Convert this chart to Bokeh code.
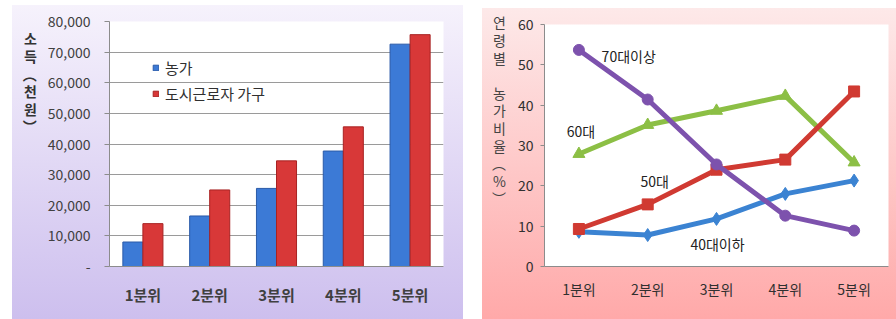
from bokeh.plotting import figure
from bokeh.models import (ColumnDataSource, FactorRange, Range1d, FixedTicker,
                          NumeralTickFormatter, Legend)
from bokeh.core.properties import value
from bokeh.transform import dodge
from bokeh.layouts import row
from bokeh.embed import file_html
from bokeh.resources import INLINE

# ---------------- data ----------------
quintiles = ["1분위", "2분위", "3분위", "4분위", "5분위"]
farm_income = [8000, 16500, 25500, 37700, 72600]
urban_income = [14000, 25000, 34500, 45600, 75700]
income_ticks = [0, 10000, 20000, 30000, 40000, 50000, 60000, 70000, 80000]

age_40_under = [8.6, 7.8, 11.8, 18.0, 21.3]
age_50s = [9.3, 15.4, 24.0, 26.5, 43.4]
age_60s = [27.9, 35.1, 38.6, 42.3, 25.8]
age_70_over = [53.7, 41.4, 25.3, 12.6, 8.9]
share_ticks = [0, 10, 20, 30, 40, 50, 60]

FONT = "Noto Sans CJK KR"
PAD = "\u00a0"

def set_stacked_label(ax, chars, pad_lines, fallback):
    try:
        ax.axis_label_orientation = "horizontal"
        ax.axis_label = "\n".join(chars + [PAD] * pad_lines)
        ax.axis_label_text_line_height = 0.88
    except Exception:
        ax.axis_label = fallback

# ---------------- left chart ----------------
src = ColumnDataSource(dict(q=quintiles, farm=farm_income, urban=urban_income))
p1 = figure(width=451, height=314, x_range=FactorRange(*quintiles),
            y_range=Range1d(0, 80000), output_backend="svg",
            toolbar_location=None, min_border_left=97, min_border_right=20,
            min_border_top=16, min_border_bottom=53,
            border_fill_color=None, background_fill_color="white",
            outline_line_color=None, margin=(5, 0, 0, 12),
            styles={"background": "linear-gradient(#f6f2fc, #cdbfee)"})
b1 = p1.vbar(x=dodge("q", -0.15, range=p1.x_range), top="farm", width=0.3,
             source=src, fill_color="#3c7ad6", line_color="#2a5aa8")
b2 = p1.vbar(x=dodge("q", 0.15, range=p1.x_range), top="urban", width=0.3,
             source=src, fill_color="#d83838", line_color="#a82222")
p1.xgrid.grid_line_color = None
p1.ygrid.grid_line_color = "#9a9a9a"
p1.ygrid.ticker = FixedTicker(ticks=income_ticks)
p1.yaxis.ticker = FixedTicker(ticks=income_ticks)
p1.yaxis.formatter = NumeralTickFormatter(format="0,0")
p1.yaxis.major_label_overrides = {0: "-"}
for ax in (p1.xaxis[0], p1.yaxis[0]):
    ax.axis_line_color = "#8c8c8c"
    ax.major_tick_line_color = "#8c8c8c"
    ax.minor_tick_line_color = None
    ax.major_tick_in = 0
    ax.major_label_text_font = FONT
    ax.major_label_text_color = "#404040"
p1.yaxis.major_tick_out = 5
p1.yaxis.major_label_text_font_size = "14px"
p1.yaxis.major_label_standoff = 14
p1.xaxis.major_tick_out = 0
p1.xaxis.major_label_text_font_size = "15px"
p1.xaxis.major_label_text_font_style = "bold"
p1.xaxis.major_label_standoff = 17

ya1 = p1.yaxis[0]
set_stacked_label(ya1, ["소", "득", "︵", "천", "원", "︶"], 7, "소득(천원)")
ya1.axis_label_text_font = FONT
ya1.axis_label_text_font_size = "14px"
ya1.axis_label_text_font_style = "bold"
ya1.axis_label_text_color = "#333333"
ya1.axis_label_standoff = 8

legend = Legend(items=[("농가", [b1]), ("도시근로자 가구", [b2])],
                location=(43, 162), background_fill_alpha=0,
                border_line_alpha=0, glyph_width=7, glyph_height=7,
                label_text_font=FONT, label_text_font_size="15px",
                label_text_color="#303030", label_height=20, spacing=5,
                padding=0, margin=0, label_standoff=6)
p1.add_layout(legend, "center")

# ---------------- right chart ----------------
src2 = ColumnDataSource(dict(q=quintiles, a40=age_40_under, a50=age_50s,
                             a60=age_60s, a70=age_70_over))
p2 = figure(width=414, height=311, x_range=FactorRange(*quintiles),
            y_range=Range1d(0, 60), output_backend="svg",
            toolbar_location=None, min_border_left=62, min_border_right=8,
            min_border_top=16, min_border_bottom=53,
            border_fill_color=None, background_fill_color="white",
            outline_line_color=None, margin=(8, 0, 0, 19),
            styles={"background": "linear-gradient(#fde9e9, #ffa9a9)"})
p2.xgrid.grid_line_color = None
p2.ygrid.grid_line_color = None

series = [("a40", "#3b83d2", "diamond", 13),
          ("a60", "#8cbf45", "triangle", 12),
          ("a50", "#d03a32", "square", 11),
          ("a70", "#7d52ad", "circle", 11)]
for col, color, marker, size in series:
    p2.line(x="q", y=col, source=src2, line_color=color, line_width=5)
    p2.scatter(x="q", y=col, source=src2, marker=marker, size=size,
               fill_color=color, line_color=color)

p2.yaxis.ticker = FixedTicker(ticks=share_ticks)
for ax in (p2.xaxis[0], p2.yaxis[0]):
    ax.axis_line_color = "#8c8c8c"
    ax.major_tick_line_color = "#8c8c8c"
    ax.minor_tick_line_color = None
    ax.major_tick_in = 0
    ax.major_label_text_font = FONT
    ax.major_label_text_color = "#303030"
p2.yaxis.major_tick_out = 4
p2.yaxis.major_label_text_font_size = "14px"
p2.yaxis.major_label_standoff = 7
p2.xaxis.major_tick_out = 0
p2.xaxis.major_label_text_font_size = "14px"
p2.xaxis.major_label_standoff = 12

ya2 = p2.yaxis[0]
set_stacked_label(ya2, ["연", "령", "별", PAD, "농", "가", "비", "율", "︵", "%", "︶"],
                  4, "연령별 농가비율(%)")
ya2.axis_label_text_font = FONT
ya2.axis_label_text_font_size = "14px"
ya2.axis_label_text_font_style = "normal"
ya2.axis_label_text_color = "#444444"
ya2.axis_label_standoff = 9

note_text = ["70대이상", "60대", "50대", "40대이하"]
note_x = ["2분위", "1분위", "2분위", "3분위"]
note_y = [52.3, 33.5, 21.3, 5.7]
note_off = [-19, 2, 7, 1]
for txt, fx, yy, off in zip(note_text, note_x, note_y, note_off):
    p2.text(x=[fx], y=[yy], text=[txt], x_offset=off,
            text_font=value(FONT), text_font_size="14px",
            text_color="#222222", text_align="center",
            text_baseline="middle")

layout = row(p1, p2)
open("out.html", "w").write(file_html(layout, INLINE))
